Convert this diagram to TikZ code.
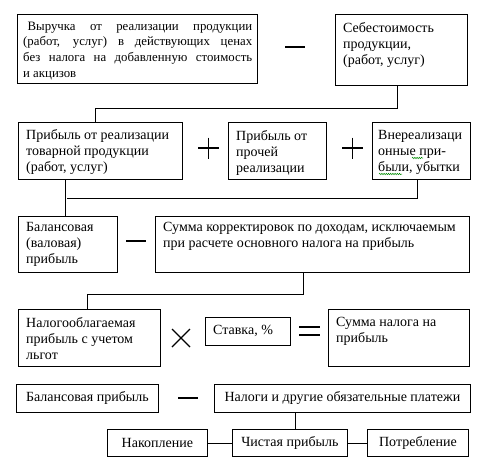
\documentclass[tikz,border=0pt]{standalone}
\usepackage{fontspec}
\setmainfont{Liberation Serif}
\usetikzlibrary{decorations.pathmorphing}
\begin{document}
\begin{tikzpicture}[x=1pt,y=-1pt,
  bx/.style={draw, line width=0.8pt, rectangle, anchor=north west, inner sep=0pt},
  tx/.style={anchor=north west, inner sep=0pt, align=left, font=\fontsize{14}{16}\selectfont},
  cx/.style={inner sep=0pt, font=\fontsize{14}{16}\selectfont},
  ln/.style={line width=0.8pt},
  opthick/.style={line width=2.4pt},
  opthin/.style={line width=1.3pt},
  squig/.style={draw=green!55!black, line width=0.5pt, decorate, decoration={snake, amplitude=0.7pt, segment length=2.2pt}}]
\path[fill=white] (0,0) rectangle (487,467);
\useasboundingbox (0,0) rectangle (487,467);

% boxes
\node[bx, minimum width=240, minimum height=69] (b1) at (17,14) {};
\node[bx, minimum width=132, minimum height=71] (b2) at (335,14) {};
\node[bx, minimum width=164, minimum height=57] (b3) at (18,122) {};
\node[bx, minimum width=98, minimum height=57] (b4) at (228,122) {};
\node[bx, minimum width=98, minimum height=57] (b5) at (372,122) {};
\node[bx, minimum width=99, minimum height=56] (bal) at (18,216) {};
\node[bx, minimum width=314, minimum height=56] (sk) at (155,216) {};
\node[bx, minimum width=142, minimum height=57] (nal) at (18,309) {};
\node[bx, minimum width=85, minimum height=28] (st) at (205,317) {};
\node[bx, minimum width=141, minimum height=57] (sn) at (328,309) {};
\node[bx, minimum width=142, minimum height=28] (bp) at (16,384) {};
\node[bx, minimum width=256, minimum height=28] (nl) at (214,384) {};
\node[bx, minimum width=100, minimum height=27] (nak) at (107,429) {};
\node[bx, minimum width=115, minimum height=27] (ch) at (232,429) {};
\node[bx, minimum width=101, minimum height=27] (pot) at (367,429) {};

% texts
\node[tx, font=\fontsize{12.8}{15.9}\selectfont] (t1) at ([shift={(6,7.5)}]b1.north west) {\makebox[229pt][s]{\hspace*{4.5pt}Выручка от реализации продукции}\\
\makebox[229pt][s]{(работ, услуг) в действующих ценах}\\
\makebox[229pt][s]{без налога на добавленную стоимость}\\
и акцизов};
\node[tx] (t2) at ([shift={(8,8)}]b2.north west) {Себестоимость\\продукции,\\(работ, услуг)};
\node[tx] (t3) at ([shift={(8,7.5)}]b3.north west) {Прибыль от реализации\\товарной продукции\\(работ, услуг)};
\node[tx] (t4) at ([shift={(8,8)}]b4.north west) {Прибыль от\\прочей\\реализации};
\node[tx] (t5) at ([shift={(6,8)}]b5.north west) {Внереализаци\\онные при-\\были, убытки};
\node[tx] (t6) at ([shift={(8,6.5)}]bal.north west) {Балансовая\\(валовая)\\прибыль};
\node[tx] (t7) at ([shift={(8,6.5)}]sk.north west) {Сумма корректировок по доходам, исключаемым\\при расчете основного налога на прибыль};
\node[tx] (t8) at ([shift={(8,8)}]nal.north west) {Налогооблагаемая\\прибыль с учетом\\льгот};
\node[tx, anchor=west] (t9) at ([xshift=8pt]st.west) {Ставка, \%};
\node[tx] (t10) at ([shift={(8,8)}]sn.north west) {Сумма налога на\\прибыль};
\node[cx] (t11) at (bp.center) {Балансовая прибыль};
\node[cx] (t12) at (nl.center) {Налоги и другие обязательные платежи};
\node[cx] (t13) at (nak.center) {Накопление};
\node[cx] (t14) at (ch.center) {Чистая прибыль};
\node[cx] (t15) at (pot.center) {Потребление};

% spell-check squiggles
\path[squig] (412,158) -- (423,158);
\path[squig] (379,174) -- (402,174);

% operators
\draw[opthick] (285,47) -- (305,47);
\draw[opthin] (198,148) -- (219,148) (208.5,137.5) -- (208.5,158.5);
\draw[opthin] (342,148) -- (363,148) (352.5,137.5) -- (352.5,158.5);
\draw[opthick, line width=2pt] (126,241) -- (146,241);
\draw[opthin] (172,329) -- (190,347) (172,347) -- (190,329);
\draw[opthick] (299,327) -- (320,327) (299,335) -- (320,335);
\draw[opthick] (178,398) -- (198,398);

% connectors
\coordinate (j1) at (95,108);
\coordinate (j1b) at (397,108);
\draw[ln] (j1b |- b2.south) -- (j1b) -- (j1) -- (j1 |- b3.north);
\coordinate (j2) at (65,198);
\draw[ln] (j2 |- b3.south) -- (j2 |- bal.north);
\coordinate (j3) at (67,198);
\coordinate (j3b) at (417,198);
\draw[ln] (j3) -- (j3b) -- (j3b |- b5.south);
\coordinate (j4) at (303,294);
\coordinate (j4b) at (87,294);
\draw[ln] (j4 |- sk.south) -- (j4) -- (j4b) -- (j4b |- nal.north);
\coordinate (j5) at (295,420);
\draw[ln] (j5 |- nl.south) -- (j5 |- ch.north);
\draw[ln] (nak.east) -- (ch.west);
\draw[ln] (ch.east) -- (pot.west);
\end{tikzpicture}
\end{document}
